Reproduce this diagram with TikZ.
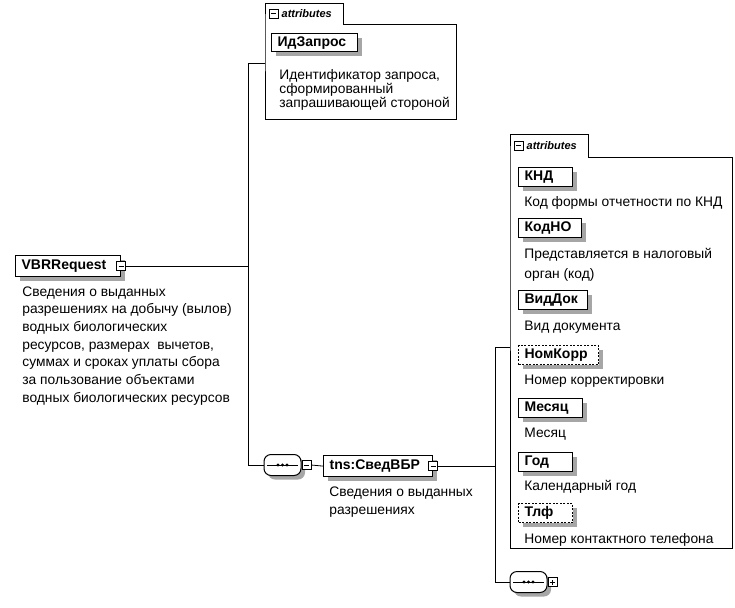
\documentclass[tikz,border=0pt]{standalone}
\usepackage{fontspec}
\setmainfont{Liberation Sans}
\usetikzlibrary{positioning, shadows}

\tikzset{
  box shadow/.style={drop shadow={shadow xshift=4pt, shadow yshift=-4pt, fill=gray!70, opacity=1}},
  elembox/.style={draw, line width=1.2pt, fill=white, anchor=north west, box shadow,
    font=\bfseries\fontsize{14}{16}\selectfont, minimum height=19pt,
    inner xsep=6pt, inner ysep=0pt, text width=#1, align=left},
  optbox/.style={elembox=#1, dash pattern=on 2pt off 1.5pt},
  descr/.style={anchor=north west, inner sep=0pt, align=left, font=\fontsize{13.8}{17}\selectfont},
  toggle/.style={draw, fill=white, line width=0.6pt, minimum size=9pt, inner sep=0pt},
  minusbox/.style={toggle, path picture={
      \draw ([xshift=2pt]path picture bounding box.west) -- ([xshift=-2pt]path picture bounding box.east);}},
  plusbox/.style={toggle, path picture={
      \draw ([xshift=2pt]path picture bounding box.west) -- ([xshift=-2pt]path picture bounding box.east);
      \draw ([yshift=2pt]path picture bounding box.south) -- ([yshift=-2pt]path picture bounding box.north);}},
  seqbox/.style={draw, line width=1pt, fill=white, rounded corners=7pt, box shadow,
    minimum width=37pt, minimum height=21pt, inner sep=0pt,
    path picture={
      \draw ([xshift=3pt]path picture bounding box.west) -- ([xshift=-3pt]path picture bounding box.east);
      \foreach \dx in {-4.5,0,4.5} \fill[black] ([xshift=\dx pt]path picture bounding box.center) circle (1.7pt);}},
  tabtext/.style={font=\bfseries\itshape\fontsize{11}{12}\selectfont, inner sep=0pt, anchor=west},
}

\begin{document}
\begin{tikzpicture}[x=1pt, y=-1pt, line width=0.8pt]
\useasboundingbox (0,0) rectangle (735,607);

% root element
\node[elembox=93pt, minimum height=21pt]	(vbr)	at (15,255)	{VBRRequest};
\node[minusbox]		(vbrmin)	at (vbr.east)	{};
\node[descr, font=\fontsize{13.8}{17.7}\selectfont]	(vbrd)	at (22,286)
  {Сведения о выданных\\разрешениях на добычу (вылов)\\водных биологических\\ресурсов, размерах~ вычетов,\\суммах и сроках уплаты сбора\\за пользование объектами\\водных биологических ресурсов};

% first attributes group
\draw (265,24) |- (343,3) |- (456,24) |- (265,119) -- cycle;
\coordinate (grp1) at (265,24);
\node[minusbox]		(tab1min)	at (273.5,13.5)	{};
\node[tabtext, right=3pt of tab1min]	(tab1)	{attributes};
\node[elembox=74pt, minimum height=18pt]	(idz)	at (271,33)	{ИдЗапрос};
\node[descr, font=\fontsize{13.8}{14}\selectfont]	(idzd)	at (279,69)
  {Идентификатор запроса,\\сформированный\\запрашивающей стороной};

% sequence below the root
\coordinate (lt) at (248,63);
\coordinate (lb) at (248,465);
\node[seqbox]		(seq1)		at (282.5,465)	{};
\node[minusbox, right=0pt of seq1]	(seq1min)	{};
\node[elembox=97pt, minimum height=21pt]	(svbr)	at (323,455)	{tns:СведВБР};
\node[minusbox]		(svmin)		at (svbr.east)	{};
\node[descr, font=\fontsize{13.8}{18}\selectfont]	(svbrd)	at (329,486)
  {Сведения о выданных\\разрешениях};

% second attributes group
\draw (510,157) |- (588,134) |- (732,157) |- (510,548) -- cycle;
\coordinate (grp2) at (510,157);
\node[minusbox]		(tab2min)	at (518.5,145.5)	{};
\node[tabtext, right=3pt of tab2min]	(tab2)	{attributes};

\node[elembox=42pt]	(knd)		at (518,167)	{КНД};
\node[descr]		(kndd)		at (524,196)	{Код формы отчетности по КНД};
\node[elembox=51pt]	(kodno)		at (518,218)	{КодНО};
\node[descr, font=\fontsize{13.8}{19.5}\selectfont]	(kodnod)	at (524,248)	{Представляется в налоговый\\орган (код)};
\node[elembox=57pt]	(viddok)	at (518,290)	{ВидДок};
\node[descr]		(viddokd)	at (524,321)	{Вид документа};
\node[optbox=68pt]	(nomkorr)	at (518,345)	{НомКорр};
\node[descr]		(nomkorrd)	at (524,375)	{Номер корректировки};
\node[elembox=52pt]	(mesyac)	at (518,398)	{Месяц};
\node[descr]		(mesyacd)	at (524,428)	{Месяц};
\node[elembox=42pt]	(god)		at (518,452)	{Год};
\node[descr]		(godd)		at (524,480)	{Календарный год};
\node[optbox=42pt]	(tlf)		at (518,503)	{Тлф};
\node[descr]		(tlfd)		at (524,533)	{Номер контактного телефона};

% sequence below the second group
\coordinate (rt) at (495,347);
\coordinate (rb) at (495,582);
\node[seqbox]		(seq2)		at (528.5,582)	{};
\node[plusbox, right=0pt of seq2]	(seq2plus)	{};

% connectors
\draw (vbrmin.east) -- (vbrmin.east -| lt);
\draw (lt -| grp1) -- (lt) -- (lb) -- (seq1.west);
\draw (seq1min.east) -- (svbr.west);
\draw (svmin.east) -- (svmin.east -| rt);
\draw (rt -| grp2) -- (rt) -- (rb) -- (seq2.west);

\end{tikzpicture}
\end{document}
